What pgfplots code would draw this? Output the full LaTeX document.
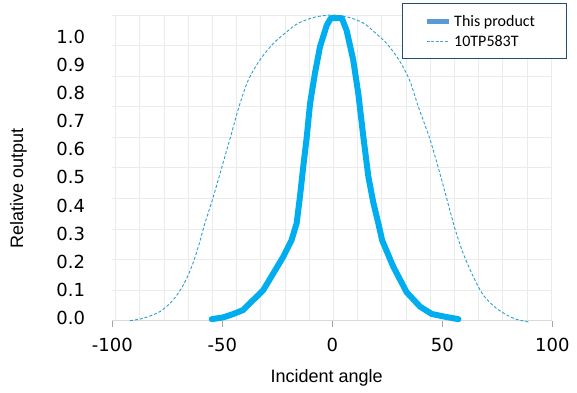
\documentclass[border=0pt]{standalone}
\usepackage{fontspec}
\usepackage{pgfplots}
\pgfplotsset{compat=1.18}
\newfontfamily\tickfont{DejaVu Sans}
\newfontfamily\labfont{Liberation Sans}
\newfontfamily\legfont{Carlito}
\definecolor{mainblue}{RGB}{0,174,239}
\definecolor{dashblue}{RGB}{40,160,210}
\definecolor{legblue}{RGB}{91,155,213}
\definecolor{legborder}{RGB}{31,78,121}
\definecolor{gridc}{RGB}{235,235,235}
\definecolor{axisc}{RGB}{217,217,217}
\definecolor{tickc}{RGB}{166,166,166}
\begin{document}
\begin{tikzpicture}
\path[use as bounding box] (-112.3pt,-71.3pt) rectangle (464.7pt,320.7pt);
\begin{axis}[
  at={(0pt,0pt)}, anchor=south west,
  scale only axis, width=440pt, height=305.7pt,
  xmin=-100, xmax=100, ymin=0, ymax=1,
  clip=false,
  axis x line*=bottom, axis y line*=left,
  x axis line style={-, draw=axisc, line width=0.8pt},
  y axis line style={draw=none},
  xtick={-100,-50,0,50,100}, xticklabels={-100,-50,0,50,100},
  ytick={0.009,0.101,0.193,0.285,0.377,0.469,0.561,0.653,0.745,0.837,0.929},
  yticklabels={0.0,0.1,0.2,0.3,0.4,0.5,0.6,0.7,0.8,0.9,1.0},
  tick align=outside, major tick length=6pt,
  xtick style={draw=tickc, line width=0.8pt},
  ytick style={draw=none},
  minor xtick={-98.5,-87.5,-76.5,-65.5,-54.5,-43.5,-32.5,-21.5,-10.5,0.5,11.5,22.5,33.5,44.5,55.5,66.5,77.5,88.5,99.5},
  minor ytick={0,0.1,0.2,0.3,0.4,0.5,0.6,0.7,0.8,0.9,1.0},
  minor tick length=0pt,
  xminorgrids=true, yminorgrids=true,
  minor grid style={draw=gridc, line width=0.8pt},
  xticklabel style={font=\tickfont\fontsize{18}{21}\selectfont, inner sep=0pt, yshift=-11.5pt},
  yticklabel style={font=\tickfont\fontsize{18}{21}\selectfont, inner sep=0pt, anchor=east, xshift=-21pt},
  xlabel={Incident angle}, ylabel={Relative output},
  xlabel style={font=\labfont\fontsize{18}{21}\selectfont, at={(axis description cs:0.487,0)}, anchor=center, yshift=-57.3pt},
  ylabel style={font=\labfont\fontsize{18}{21}\selectfont, at={(axis description cs:-0.2132,0.431)}, anchor=center},
  legend image code/.code={\draw[#1] (0pt,0pt) -- (22pt,0pt);},
  legend style={at={(0.658,1.038)}, anchor=north west, draw=legborder, line width=0.8pt, fill=white,
    inner xsep=22pt, inner ysep=11pt, row sep=7pt, column sep=3pt,
    nodes={inner sep=0pt, text height=12pt, text depth=1pt, anchor=west},
    font=\legfont\fontsize{16}{19}\selectfont},
  legend cell align=left,
]
\addplot[color=mainblue, line width=6pt, line join=round, line cap=round,
  legend image post style={color=legblue, line width=5pt, line cap=butt}] coordinates {
(-54.8,0.005) (-49.5,0.011) (-45,0.022) (-40.5,0.035) (-35.9,0.068) (-31.4,0.10)
(-26.8,0.155) (-22.3,0.209) (-18.5,0.264) (-16.2,0.319) (-14.7,0.406) (-13.2,0.504)
(-11.6,0.602) (-10.1,0.711) (-7.9,0.809) (-5.6,0.896) (-2.5,0.967) (-0.6,0.99)
(4.3,0.99) (6.5,0.95) (9.5,0.853) (11.8,0.744) (14.1,0.602) (16.4,0.471) (18.6,0.388)
(20.9,0.319) (22.7,0.262) (27.7,0.177) (33.8,0.093) (39.9,0.046) (45.2,0.022)
(51.2,0.013) (57.3,0.005)
};
\addlegendentry{\makebox[90pt][l]{This product}}
\addplot[color=dashblue, line width=0.9pt, dash pattern=on 3pt off 2pt, smooth,
  legend image post style={color=legblue, line width=0.8pt, dash pattern=on 3pt off 1.5pt}] coordinates {
(-92,0) (-85.9,0.008) (-78.3,0.03) (-72.3,0.068) (-67.7,0.117) (-63.9,0.177)
(-60.9,0.242) (-57.9,0.319) (-54.3,0.4) (-50.3,0.5) (-46.3,0.6) (-42.4,0.7)
(-38.2,0.787) (-32.9,0.853) (-26.8,0.907) (-20.7,0.945) (-15.5,0.973) (-7.9,0.993) (0,1.0)
(7.3,0.993) (14.3,0.973) (19,0.945) (24.7,0.907) (30.3,0.853) (35.1,0.787)
(39.1,0.7) (44.1,0.6) (48.2,0.5) (52,0.4) (55.8,0.3) (59.5,0.22)
(64.1,0.144) (68.6,0.084) (74.7,0.04) (82.3,0.008) (89.9,-0.005)
};
\addlegendentry{\makebox[90pt][l]{10TP583T}}
\end{axis}
\end{tikzpicture}
\end{document}
